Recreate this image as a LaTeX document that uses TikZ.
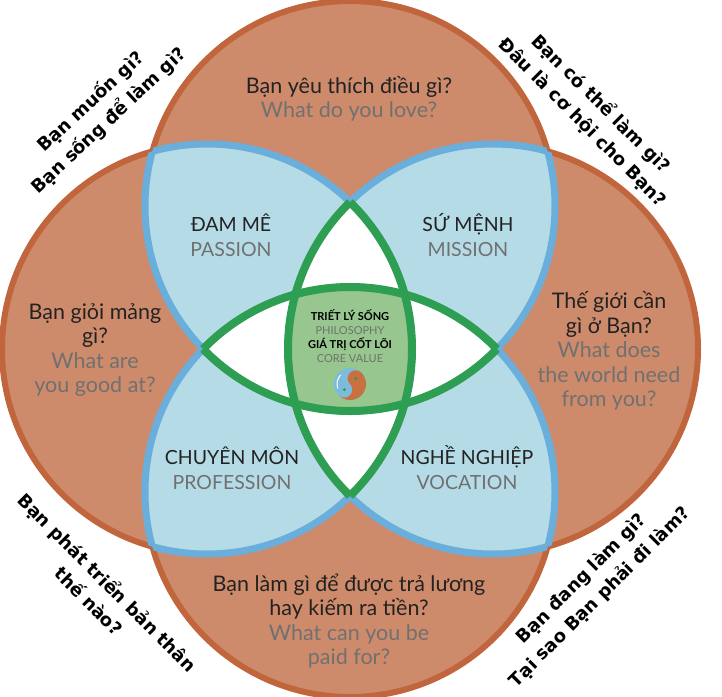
\documentclass[tikz,border=0pt]{standalone}
\usepackage{fontspec}
\setmainfont{Lato}
\newfontfamily\hintfont{DejaVu Sans}
\definecolor{petal}{HTML}{CE8B6C}
\definecolor{rim}{HTML}{C0653C}
\definecolor{lagoon}{HTML}{B5DCE6}
\definecolor{lagoonrim}{HTML}{6AAEDC}
\definecolor{leaf}{HTML}{2E9E52}
\definecolor{core}{HTML}{97C68E}
\definecolor{ink}{HTML}{222222}
\definecolor{engray}{HTML}{707070}
\definecolor{sky}{HTML}{7DBBDD}
\definecolor{clay}{HTML}{C8703F}
\tikzset{
  ask/.style={align=center,text=ink,font=\fontsize{21.5}{24.5}\selectfont},
  realm/.style={align=center,text=ink,font=\fontsize{19.5}{25}\selectfont},
  heart/.style={align=center,text=black,font=\fontsize{11}{14}\selectfont},
  hint/.style={align=center,text=black,font=\hintfont\bfseries\fontsize{18}{26}\selectfont},
}
\newcommand{\en}[1]{\textcolor{engray}{#1}}
\def\rad{205pt}

\begin{document}
\begin{tikzpicture}[x=1pt,y=-1pt]
\useasboundingbox (0,0) rectangle (722,696);
\coordinate (up) at (350,206);
\coordinate (dn) at (350,492);
\coordinate (lt) at (207,349);
\coordinate (rt) at (493,349);

% four petals
\foreach \p in {up,dn,lt,rt} \fill[petal] (\p) circle (\rad);
\foreach \p in {up,dn,lt,rt} \draw[rim,line width=6pt] (\p) circle (\rad);

% neighbour overlaps
\foreach \a/\b in {up/lt,up/rt,dn/lt,dn/rt}{
  \begin{scope}
    \clip (\a) circle (\rad);
    \fill[lagoon] (\b) circle (\rad);
  \end{scope}
}
% opposite overlaps
\foreach \a/\b in {up/dn,lt/rt}{
  \begin{scope}
    \clip (\a) circle (\rad);
    \fill[white] (\b) circle (\rad);
  \end{scope}
}
% the core
\begin{scope}
  \clip (up) circle (\rad);
  \clip (dn) circle (\rad);
  \clip (lt) circle (\rad);
  \fill[core] (rt) circle (\rad);
\end{scope}

% blue and green rims
\foreach \a/\b in {up/lt,lt/up,up/rt,rt/up,dn/lt,lt/dn,dn/rt,rt/dn}{
  \begin{scope}
    \clip (\b) circle (\rad);
    \draw[lagoonrim,line width=7pt] (\a) circle (\rad);
  \end{scope}
}
\foreach \a/\b in {up/dn,dn/up,lt/rt,rt/lt}{
  \begin{scope}
    \clip (\b) circle (\rad);
    \draw[leaf,line width=8pt] (\a) circle (\rad);
  \end{scope}
}

% questions
\node[ask] (love) at (349,99) {Bạn yêu thích điều gì?\\\en{What do you love?}};
\node[ask] (good) at (95,350) {Bạn giỏi mảng\\gì?\\\en{What are}\\\en{you good at?}};
\node[ask] (need) at (609,351) {Thế giới cần\\gì ở Bạn?\\\en{What does}\\\en{the world need}\\\en{from you?}};
\node[ask] (paid) at (349,621) {Bạn làm gì để được trả lương\\hay kiếm ra tiền?\\\en{What can you be}\\\en{paid for?}};

\node[realm] (passion) at (231,235) {ĐAM MÊ\\\en{PASSION}};
\node[realm] (mission) at (468,235) {SỨ MỆNH\\\en{MISSION}};
\node[realm] (profession) at (232,468) {CHUYÊN MÔN\\\en{PROFESSION}};
\node[realm] (vocation) at (467,468) {NGHỀ NGHIỆP\\\en{VOCATION}};

\node[heart] (philo) at (350,336) {\textbf{TRIẾT LÝ SỐNG}\\\en{PHILOSOPHY}\\\textbf{GIÁ TRỊ CỐT LÕI}\\\en{CORE VALUE}};

% yin yang badge
\begin{scope}[shift={(350,384)},x=1pt,y=1pt]
  \fill[sky] (0,0) circle (16pt);
  \fill[clay] (45:16pt) arc[start angle=45,end angle=-135,radius=16pt]
    arc[start angle=225,end angle=405,radius=8pt]
    arc[start angle=225,end angle=45,radius=8pt] -- cycle;
  \draw[white,line width=1pt] (135:13pt) arc[start angle=135,end angle=200,radius=13pt];
  \fill[leaf] (5.66,5.66) circle (1.6pt);
  \fill[leaf] (-5.66,-5.66) circle (1.6pt);
\end{scope}

% side questions
\node[hint,rotate=43] (want) at (100,111) {Bạn muốn gì?\\Bạn sống để làm gì?};
\node[hint,rotate=-45] (can) at (592,113) {Bạn có thể làm gì?\\Đâu là cơ hội cho Bạn?};
\node[hint,rotate=-45] (grow) at (99,591) {Bạn phát triển bản thân\\thế nào?};
\node[hint,rotate=45] (doing) at (591,588) {Bạn đang làm gì?\\Tại sao Bạn phải đi làm?};
\end{tikzpicture}
\end{document}
